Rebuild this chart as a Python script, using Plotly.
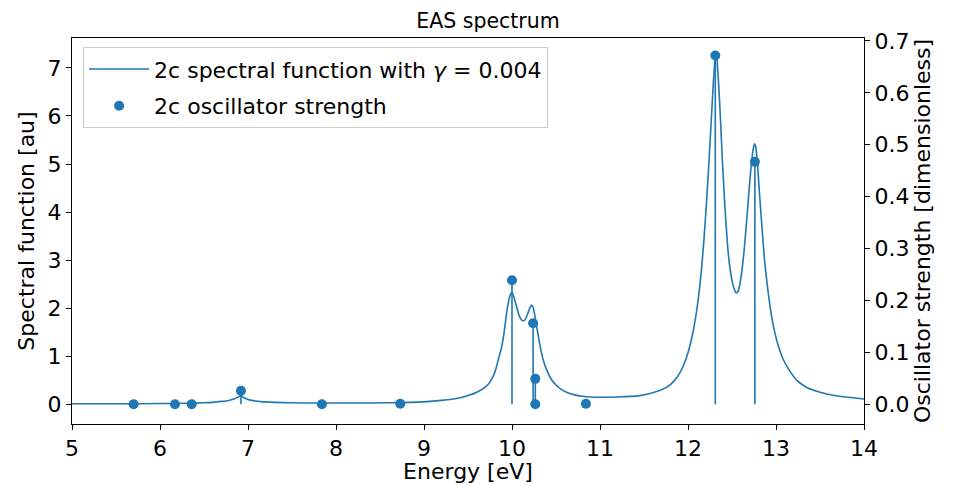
import plotly.graph_objects as go

# Spectral function (left axis, au)
spec_energy = [5.0, 5.5, 6.0, 6.3, 6.5, 6.6, 6.7, 6.78, 6.84, 6.88, 6.92, 6.95, 7.0, 7.06,
               7.15, 7.3, 7.5, 7.8, 8.2, 8.6, 9.0, 9.2, 9.4, 9.5, 9.6, 9.7, 9.76, 9.81, 9.85,
               9.88, 9.91, 9.94, 9.97, 9.99, 10.0, 10.02, 10.05, 10.08, 10.11, 10.14, 10.17,
               10.20, 10.22, 10.24, 10.26, 10.28, 10.30, 10.33, 10.36, 10.40, 10.45, 10.5,
               10.56, 10.62, 10.7, 10.8, 10.9, 11.0, 11.2, 11.45, 11.6, 11.7, 11.8, 11.88,
               11.95, 12.0, 12.05, 12.09, 12.12, 12.15, 12.18, 12.21, 12.24, 12.27, 12.29,
               12.31, 12.32, 12.33, 12.35, 12.37, 12.39, 12.42, 12.45, 12.48, 12.51, 12.54,
               12.56, 12.58, 12.61, 12.64, 12.67, 12.70, 12.72, 12.74, 12.755, 12.77, 12.79,
               12.81, 12.84, 12.87, 12.90, 12.94, 12.98, 13.03, 13.08, 13.15, 13.24, 13.35,
               13.5, 13.7, 13.85, 14.0]
spec_value = [0.02, 0.02, 0.025, 0.03, 0.04, 0.05, 0.07, 0.09, 0.12, 0.15, 0.19, 0.15, 0.11, 0.085,
              0.065, 0.05, 0.04, 0.035, 0.035, 0.04, 0.06, 0.09, 0.14, 0.19, 0.26, 0.37, 0.5, 0.7, 0.98,
              1.18, 1.5, 1.92, 2.22, 2.32, 2.33, 2.25, 2.05, 1.86, 1.76, 1.75, 1.85,
              2.0, 2.07, 2.02, 1.85, 1.63, 1.42, 1.12, 0.9, 0.7, 0.52, 0.41,
              0.32, 0.26, 0.21, 0.175, 0.16, 0.155, 0.16, 0.19, 0.25, 0.31, 0.42, 0.58,
              0.82, 1.08, 1.45, 1.85, 2.25, 2.75, 3.4, 4.2, 5.1, 6.1, 6.75,
              7.2, 7.25, 7.15, 6.6, 5.9, 5.1, 4.1, 3.3, 2.8, 2.5, 2.34,
              2.33, 2.42, 2.75, 3.25, 3.9, 4.6, 5.0, 5.3, 5.42, 5.35, 5.0,
              4.45, 3.7, 3.0, 2.5, 1.95, 1.55, 1.2, 0.95, 0.72, 0.5, 0.36,
              0.26, 0.18, 0.15, 0.12]

# Oscillator strengths (right axis, dimensionless)
osc_energy = [5.70, 6.17, 6.36, 6.92, 7.84, 8.73, 10.00, 10.24, 10.265, 10.265, 10.84, 12.31, 12.76]
osc_strength = [0.0, 0.0, 0.0, 0.026, 0.0, 0.001, 0.239, 0.156, 0.049, 0.0, 0.001, 0.672, 0.467]

x_ticks = [5, 6, 7, 8, 9, 10, 11, 12, 13, 14]
y1_ticks = [0, 1, 2, 3, 4, 5, 6, 7]
y2_ticks = [0.0, 0.1, 0.2, 0.3, 0.4, 0.5, 0.6, 0.7]

C0 = "#1f77b4"
FONT = "DejaVu Sans"
FS = 22

# the page body adds an 8px offset; the figure is sized so it ends at the window edge
W, H = 952, 476

stem_x, stem_y = [], []
for e, f in zip(osc_energy, osc_strength):
    stem_x += [e, e, None]
    stem_y += [0, f, None]

fig = go.Figure()
fig.add_trace(go.Scatter(x=spec_energy, y=spec_value, mode="lines",
                         line=dict(color=C0, width=1.6, shape="spline", smoothing=0.5),
                         legendgroup="a",
                         name="2c spectral function with <i>γ</i> = 0.004"))
fig.add_trace(go.Scatter(x=stem_x, y=stem_y, mode="lines", yaxis="y2",
                         line=dict(color=C0, width=1.6), showlegend=False, hoverinfo="skip"))
fig.add_trace(go.Scatter(x=osc_energy, y=osc_strength, mode="markers", yaxis="y2",
                         marker=dict(color=C0, size=10), legendgroup="b",
                         name="2c oscillator strength"))

axis_common = dict(showline=True, linecolor="black", linewidth=1.1, ticks="outside",
                   ticklen=5, tickwidth=1.1, tickcolor="black", showgrid=False,
                   zeroline=False, automargin=False,
                   tickfont=dict(family=FONT, size=FS, color="black"))

fig.update_layout(
    width=W, height=H,
    margin=dict(l=64, r=96, t=30, b=60),
    paper_bgcolor="white", plot_bgcolor="white",
    font=dict(family=FONT, size=FS, color="black"),
    title=dict(text="EAS spectrum", x=0.5 + 4 / W, xref="container", xanchor="center",
               y=1 - 13 / H, yanchor="middle", automargin=False,
               font=dict(family=FONT, size=20.5)),
    xaxis=dict(range=[5, 14], tickvals=x_ticks, mirror=True,
               title=dict(text="Energy [eV]", standoff=5, font=dict(family=FONT, size=FS)),
               **axis_common),
    yaxis=dict(range=[-0.4, 7.62], tickvals=y1_ticks,
               title=dict(text="Spectral function [au]", standoff=6, font=dict(family=FONT, size=FS)),
               **axis_common),
    yaxis2=dict(range=[-0.038, 0.7056], tickvals=y2_ticks, tickformat=".1f",
                overlaying="y", side="right",
                title=dict(text="Oscillator strength [dimensionless]", standoff=6,
                           font=dict(family=FONT, size=FS)),
                **axis_common),
    legend=dict(x=0.014, y=0.976, xanchor="left", yanchor="top",
                bgcolor="rgba(255,255,255,0.8)", bordercolor="#cccccc", borderwidth=1,
                font=dict(family=FONT, size=FS), tracegroupgap=5, itemwidth=60),
    showlegend=True,
)

fig.write_html("out.html")
